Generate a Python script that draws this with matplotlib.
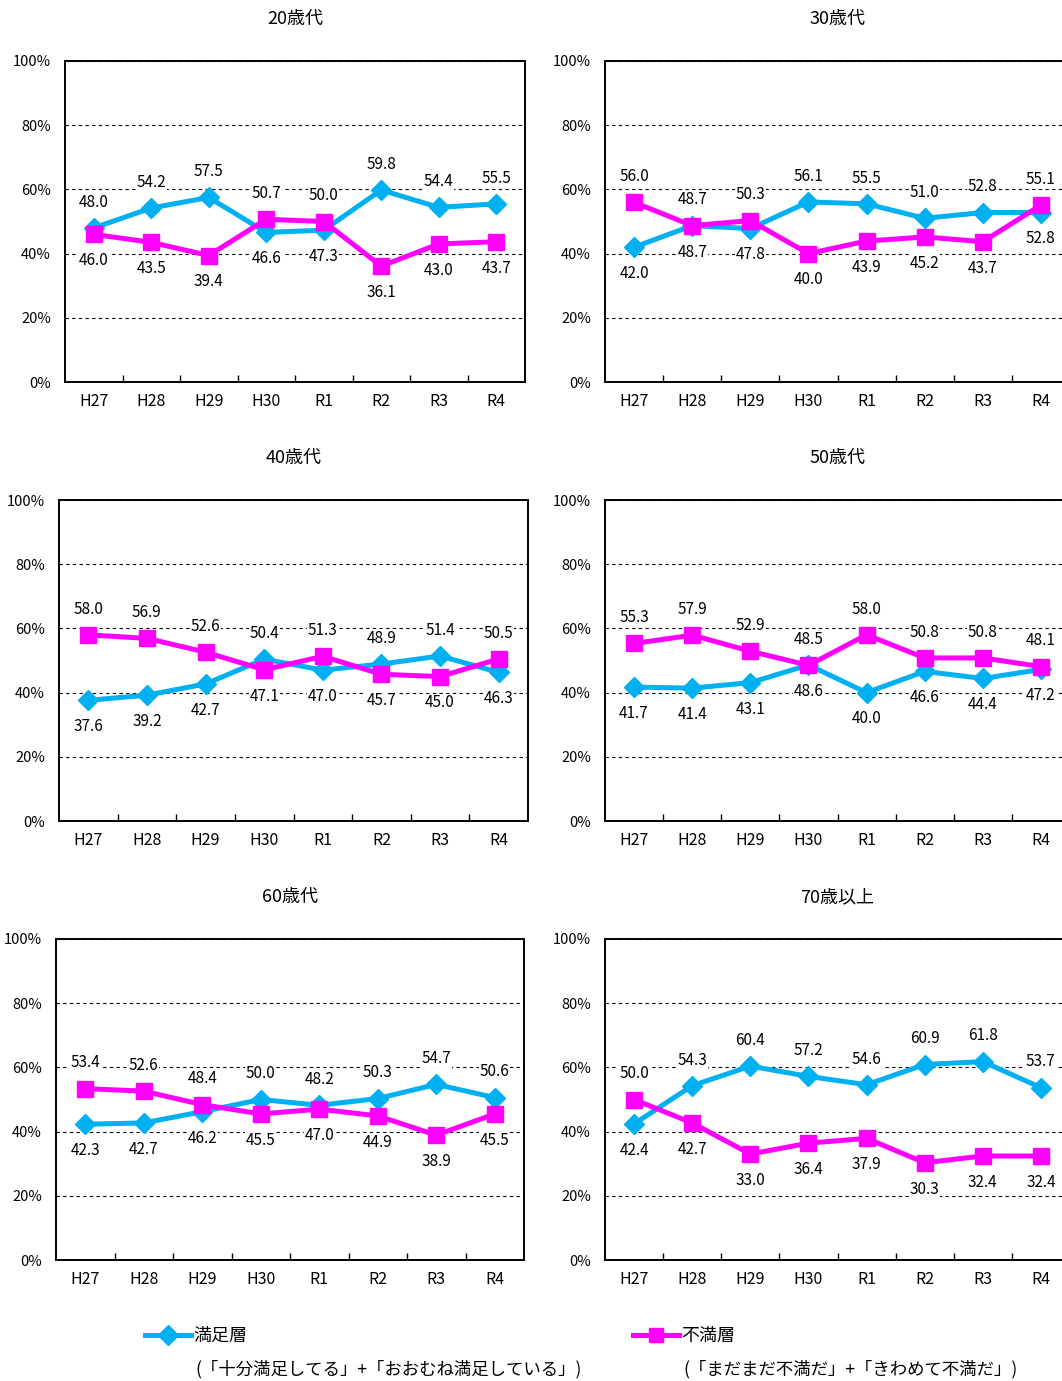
import numpy as np
import matplotlib.pyplot as plt
from matplotlib.lines import Line2D

plt.rcParams['font.family'] = ['Noto Sans CJK JP', 'DejaVu Sans']

years = ['H27', 'H28', 'H29', 'H30', 'R1', 'R2', 'R3', 'R4']
ages = ['20歳代', '30歳代', '40歳代', '50歳代', '60歳代', '70歳以上']

# 満足層 / 不満層 (%)
sat_20 = [48.0, 54.2, 57.5, 46.6, 47.3, 59.8, 54.4, 55.5]
dis_20 = [46.0, 43.5, 39.4, 50.7, 50.0, 36.1, 43.0, 43.7]
sat_30 = [42.0, 48.7, 47.8, 56.1, 55.5, 51.0, 52.8, 52.8]
dis_30 = [56.0, 48.7, 50.3, 40.0, 43.9, 45.2, 43.7, 55.1]
sat_40 = [37.6, 39.2, 42.7, 50.4, 47.0, 48.9, 51.4, 46.3]
dis_40 = [58.0, 56.9, 52.6, 47.1, 51.3, 45.7, 45.0, 50.5]
sat_50 = [41.7, 41.4, 43.1, 48.6, 40.0, 46.6, 44.4, 47.2]
dis_50 = [55.3, 57.9, 52.9, 48.5, 58.0, 50.8, 50.8, 48.1]
sat_60 = [42.3, 42.7, 46.2, 50.0, 48.2, 50.3, 54.7, 50.6]
dis_60 = [53.4, 52.6, 48.4, 45.5, 47.0, 44.9, 38.9, 45.5]
sat_70 = [42.4, 54.3, 60.4, 57.2, 54.6, 60.9, 61.8, 53.7]
dis_70 = [50.0, 42.7, 33.0, 36.4, 37.9, 30.3, 32.4, 32.4]

sat = [sat_20, sat_30, sat_40, sat_50, sat_60, sat_70]
dis = [dis_20, dis_30, dis_40, dis_50, dis_60, dis_70]

BLUE = '#00B0F0'
PINK = '#FF00FF'

W, H = 1062, 1381
fig = plt.figure(figsize=(W / 100, H / 100), dpi=100)

# axes boxes in pixels: left, top, right, bottom
boxes = [(65, 61, 525, 382), (605, 61, 1070, 382),
         (59, 500, 528, 821), (605, 500, 1070, 821),
         (56, 939, 524, 1260), (605, 939, 1070, 1260)]

x = np.arange(len(years))
for i, (l, t, r, b) in enumerate(boxes):
    ax = fig.add_axes([l / W, 1 - b / H, (r - l) / W, (b - t) / H])
    ax.set_xlim(-0.5, 7.5)
    ax.set_ylim(0, 100)
    ax.plot(x, sat[i], color=BLUE, lw=3.6, marker='D', ms=10, zorder=4)
    ax.plot(x, dis[i], color=PINK, lw=3.6, marker='s', ms=11, zorder=4)

    # higher value labelled above, lower below
    for j in range(len(years)):
        up = sat[i][j] > dis[i][j] + 0.5
        for v, above in ((sat[i][j], up), (dis[i][j], not up)):
            ax.annotate(f'{v:.1f}', (x[j], v), xytext=(0, 18.5 if above else -19),
                        textcoords='offset points', ha='center', va='center',
                        fontsize=11, zorder=5,
                        bbox=dict(facecolor='white', edgecolor='none', pad=0.5))

    ax.set_yticks([0, 20, 40, 60, 80, 100])
    ax.set_yticklabels([f'{v}%' for v in [0, 20, 40, 60, 80, 100]], fontsize=10.5)
    ax.tick_params(axis='y', length=0, pad=10)
    ax.set_xticks(x)
    ax.set_xticklabels(years, fontsize=11.5)
    ax.set_xticks(np.arange(0.5, 7, 1), minor=True)
    ax.tick_params(axis='x', which='major', length=0, pad=8)
    ax.tick_params(axis='x', which='minor', direction='in', length=5, width=1)
    ax.yaxis.grid(True, linestyle=(0, (3, 3)), color='black', lw=0.8)
    ax.set_axisbelow(True)
    for s in ax.spines.values():
        s.set_linewidth(1.4)
    ax.text(0.5, 1 + 42 / (b - t), ages[i], transform=ax.transAxes,
            ha='center', va='center', fontsize=13)

# legend at the bottom
for lx, color, mk, name, note in [
        (145, BLUE, 'D', '満足層', '(「十分満足してる」+「おおむね満足している」)'),
        (633, PINK, 's', '不満層', '(「まだまだ不満だ」+「きわめて不満だ」)')]:
    y0 = 1 - 1335 / H
    fig.add_artist(Line2D([lx / W, (lx + 23) / W, (lx + 46) / W], [y0] * 3,
                          transform=fig.transFigure, color=color, lw=3.6,
                          marker=mk, ms=10, markevery=[1]))
    fig.text((lx + 48) / W, 1 - 1336 / H, name, ha='left', va='center', fontsize=13)
    fig.text((lx + 50) / W, 1 - 1369 / H, note, ha='left', va='center', fontsize=12.5)

plt.savefig('out.png', dpi=100)
